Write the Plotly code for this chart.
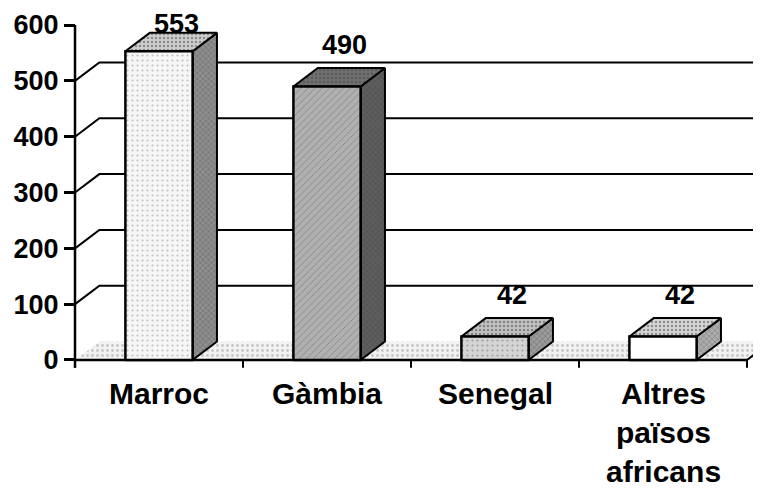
import plotly.graph_objects as go

# ---- data ----
categories = ["Marroc", "Gàmbia", "Senegal", "Altres<br>països<br>africans"]
values = [553, 490, 42, 42]
tick_values = [0, 100, 200, 300, 400, 500, 600]
tick_labels = ["0", "100", "200", "300", "400", "500", "600"]
grid_values = [100, 200, 300, 400, 500]

# ---- styles ----
front_colors = ["#f6f6f6", "#b0b0b0", "#d4d4d4", "#ffffff"]
front_fg = ["#8a8a8a", "#505050", "#6a6a6a", "#ffffff"]
front_shapes = [".", "/", ".", ""]
side_colors = ["#8e8e8e", "#5e5e5e", "#9a9a9a", "#adadad"]
top_colors = ["#cfcfcf", "#707070", "#c2c2c2", "#d6d6d6"]
FONT = "Liberation Sans, Arial, sans-serif"

W = 0.40      # bar width (category units)
DX = 0.145    # 3D depth in x (category units)
DY = 33       # 3D depth in y (value units)
x_pos = list(range(len(categories)))
x_left = -0.5
x_right = len(categories) - 0.5

fig = go.Figure()

def poly(xs, ys, fill, pat_shape, pat_fg, width=2, line_color="black", pat_size=4, sol=0.2):
    fp = dict(shape=pat_shape, fgcolor=pat_fg, bgcolor=fill, size=pat_size, solidity=sol) if pat_shape else None
    fig.add_trace(go.Scatter(x=xs, y=ys, mode="lines", fill="toself", fillcolor=fill,
                             fillpattern=fp, line=dict(color=line_color, width=width),
                             hoverinfo="skip", showlegend=False))

def line(xs, ys, width=2):
    fig.add_trace(go.Scatter(x=xs, y=ys, mode="lines", line=dict(color="black", width=width),
                             hoverinfo="skip", showlegend=False))

# floor
poly([x_left, x_right, x_right + DX, x_left + DX, x_left], [0, 0, DY, DY, 0],
     "#f2f2f2", ".", "#9a9a9a", width=0, line_color="rgba(0,0,0,0)", pat_size=5, sol=0.25)
line([x_right, x_right + DX], [0, DY])

# back wall gridlines + diagonals from axis
for g in grid_values:
    line([x_left, x_left + DX, x_right + 2 * DX], [g, g + DY, g + DY])

# base line and category ticks
line([x_left, x_right], [0, 0], width=2.5)
for b in range(len(categories) + 1):
    line([x_left + b, x_left + b], [0, -14])
# y axis line
line([x_left, x_left], [-14, tick_values[-1]], width=2.5)

# bars
for i, v in enumerate(values):
    xr = x_pos[i] + W / 2
    xl = x_pos[i] - W / 2
    poly([xr, xr + DX, xr + DX, xr, xr], [0, DY, v + DY, v, 0],
         side_colors[i], "x", "#2e2e2e", sol=0.2)
    poly([xl, xr, xr + DX, xl + DX, xl], [v, v, v + DY, v + DY, v],
         top_colors[i], ".", "#444444", sol=0.3)
    poly([xl, xr, xr, xl, xl], [0, 0, v, v, 0],
         front_colors[i], front_shapes[i], front_fg[i], width=2.5, pat_size=5, sol=0.15)

# value labels
for i, v in enumerate(values):
    fig.add_annotation(x=x_pos[i] + DX / 2 + 0.03, y=min(v + DY + 42, 602),
                       text=str(v), showarrow=False, yanchor="middle",
                       font=dict(family=FONT, size=27, color="black", weight="bold"))

# category labels
for i, c in enumerate(categories):
    fig.add_annotation(x=x_pos[i], y=-26, text=c, showarrow=False, yanchor="top",
                       font=dict(family=FONT, size=30, color="black", weight="bold"))

# page body has an 8px margin; figure is sized/positioned to compensate
FIG_W, FIG_H = 753, 480
L = 62
plot_w = FIG_W - L
px_per_cat = 168.0
x0 = x_left - 5 / px_per_cat
fig.update_layout(
    width=FIG_W, height=FIG_H,
    margin=dict(l=L, r=0, t=0, b=0),
    plot_bgcolor="white", paper_bgcolor="white",
    xaxis=dict(range=[x0, x0 + plot_w / px_per_cat], visible=False, fixedrange=True),
    yaxis=dict(range=[-229.3, 630.5], anchor="free", position=5 / plot_w,
               tickvals=tick_values, ticktext=tick_labels,
               ticks="outside", ticklen=11, tickwidth=2.5, tickcolor="black",
               showgrid=False, zeroline=False, showline=False, fixedrange=True,
               tickfont=dict(family=FONT, size=27, color="black", weight="bold")),
)

fig.write_html("out.html")
